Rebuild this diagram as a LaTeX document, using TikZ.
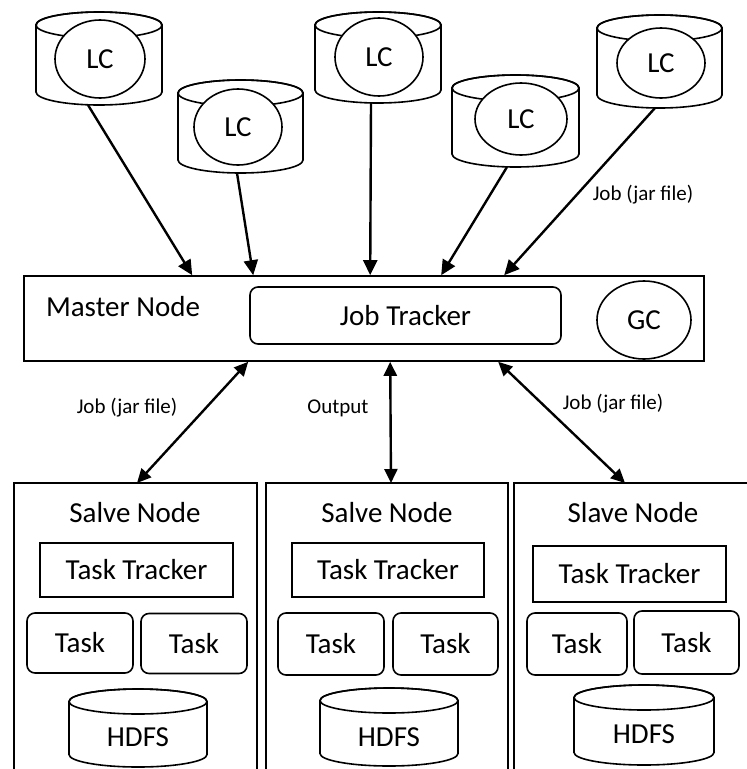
\documentclass[tikz,border=0pt]{standalone}
\usepackage{fontspec}
\setmainfont{Carlito}
\usetikzlibrary{shapes.geometric,arrows.meta,calc}
\newcommand\mycyl[5]{%
  \draw[shp,fill=white] (#1-#4,#2+#5) -- (#1-#4,#3-#5)
    arc[start angle=180,end angle=0,x radius=#4,y radius=#5]
    -- (#1+#4,#2+#5)
    arc[start angle=360,end angle=180,x radius=#4,y radius=#5] -- cycle;
  \draw[shp] (#1,#2+#5) ellipse[x radius=#4,y radius=#5];
}
\tikzset{
  shp/.style={line width=1.6pt},
  big/.style={font=\fontsize{29}{34}\selectfont},
  lab/.style={font=\fontsize{21}{25}\selectfont},
  ghost/.style={draw=none,inner sep=0pt,outer sep=0pt},
  lc/.style={ellipse,shp,draw,fill=white,inner sep=0pt,big},
  arr/.style={line width=2.4pt,-{Triangle[length=15pt,width=14pt]}},
  darr/.style={line width=2.4pt,{Triangle[length=14pt,width=13pt]}-{Triangle[length=14pt,width=13pt]}},
  rbox/.style={draw,shp,rounded corners=8pt,inner sep=0pt,big},
  sbox/.style={draw,shp,inner sep=0pt,big},
}
\begin{document}
\begin{tikzpicture}[x=1pt,y=-1pt]
\useasboundingbox (0,0) rectangle (747,769);

% ---------- LC cylinders ----------
\mycyl{99}{12}{105}{63}{13}
\node[ghost,minimum width=126pt,minimum height=93pt] (c1) at (99,58.5) {};
\node[lc,minimum width=90pt,minimum height=78pt] (lc1) at (100,59) {LC};

\mycyl{240.5}{80}{173}{62.5}{13}
\node[ghost,minimum width=125pt,minimum height=93pt] (c2) at (240.5,126.5) {};
\node[lc,minimum width=88pt,minimum height=76pt] (lc2) at (238,127) {LC};

\mycyl{378}{12}{103}{63}{13}
\node[ghost,minimum width=126pt,minimum height=91pt] (c3) at (378,57.5) {};
\node[lc,minimum width=88pt,minimum height=78pt] (lc3) at (379,57) {LC};

\mycyl{515.5}{75}{167}{63.5}{13}
\node[ghost,minimum width=127pt,minimum height=92pt] (c4) at (515.5,121) {};
\node[lc,minimum width=92pt,minimum height=72pt] (lc4) at (521,119) {LC};

\mycyl{659.5}{15}{108}{62.5}{13}
\node[ghost,minimum width=125pt,minimum height=93pt] (c5) at (659.5,61.5) {};
\node[lc,minimum width=88pt,minimum height=70pt] (lc5) at (661,63) {LC};

% ---------- Master node ----------
\node[draw,shp,minimum width=680pt,minimum height=85pt,inner sep=0pt] (master) at (364,318.5) {};
\node[big] (mtitle) at (123,307) {Master Node};
\node[rbox,minimum width=311pt,minimum height=57pt] (jt) at (405.5,315.5) {Job Tracker};
\node[ellipse,draw,shp,minimum width=94pt,minimum height=78pt,inner sep=0pt,big] (gc) at (644,320) {GC};

% ---------- arrows from LCs ----------
\draw[arr] ($(c1.south)+(-11,0)$) -- ($(master.north west)+(169,0)$);
\draw[arr] ($(c2.south)+(-3.5,0)$) -- ($(master.north west)+(230,0)$);
\draw[arr] ($(c3.south)+(-7,0)$) -- ($(master.north west)+(347,0)$);
\draw[arr] ($(c4.south)+(-8.5,0)$) -- ($(master.north west)+(418,0)$);
\draw[arr] ($(c5.south)+(-4.5,0)$) -- ($(master.north west)+(481,0)$);
\node[lab] (l1) at (643,195) {Job (jar file)};

% ---------- slave nodes ----------
\node[ghost,minimum width=243pt,minimum height=286pt] (s1) at (135.5,626) {};
\node[ghost,minimum width=242pt,minimum height=286pt] (s2) at (387,626) {};
\node[ghost,minimum width=246pt,minimum height=286pt] (s3) at (637,626) {};
\draw[shp] (s1.south west) -- (s1.north west) -- (s1.north east) -- (s1.south east);
\draw[shp] (s2.south west) -- (s2.north west) -- (s2.north east) -- (s2.south east);
\draw[shp] (s3.south west) -- (s3.north west) -- (s3.north east);

% slave 1
\node[big] (t1) at (135,513) {Salve Node};
\node[sbox,minimum width=193pt,minimum height=54pt] (tt1) at (136.5,570) {Task Tracker};
\node[rbox,minimum width=106pt,minimum height=60pt] (ta1) at (80,643) {Task};
\node[rbox,minimum width=106pt,minimum height=60pt] (tb1) at (194,643.5) {Task};
\mycyl{138}{689}{767}{69}{12.5}
\node[big] (h1) at (138,737) {HDFS};

% slave 2
\node[big] (t2) at (387,513) {Salve Node};
\node[sbox,minimum width=192pt,minimum height=54pt] (tt2) at (388,570) {Task Tracker};
\node[rbox,minimum width=106pt,minimum height=62pt] (ta2) at (331,644) {Task};
\node[rbox,minimum width=105pt,minimum height=62pt] (tb2) at (445.5,644) {Task};
\mycyl{389}{688}{766}{69}{12.5}
\node[big] (h2) at (389,737) {HDFS};

% slave 3
\node[big] (t3) at (633,513) {Slave Node};
\node[sbox,minimum width=193pt,minimum height=56pt] (tt3) at (629.5,574) {Task Tracker};
\node[rbox,minimum width=100pt,minimum height=62pt] (ta3) at (577,644) {Task};
\node[rbox,minimum width=105pt,minimum height=63pt] (tb3) at (686.5,642.5) {Task};
\mycyl{644}{685}{765}{70}{12.5}
\node[big] (h3) at (644,734) {HDFS};

% ---------- master <-> slaves ----------
\draw[darr] ($(master.south west)+(225,0)$) -- ($(s1.north west)+(123,0)$);
\draw[darr] ($(master.south west)+(367,0)$) -- ($(s2.north west)+(125,0)$);
\draw[darr] ($(master.south west)+(475,0)$) -- ($(s3.north west)+(111,0)$);
\node[lab] (l2) at (127,408) {Job (jar file)};
\node[lab] (l3) at (338,408) {Output};
\node[lab] (l4) at (613,404) {Job (jar file)};
\end{tikzpicture}
\end{document}
